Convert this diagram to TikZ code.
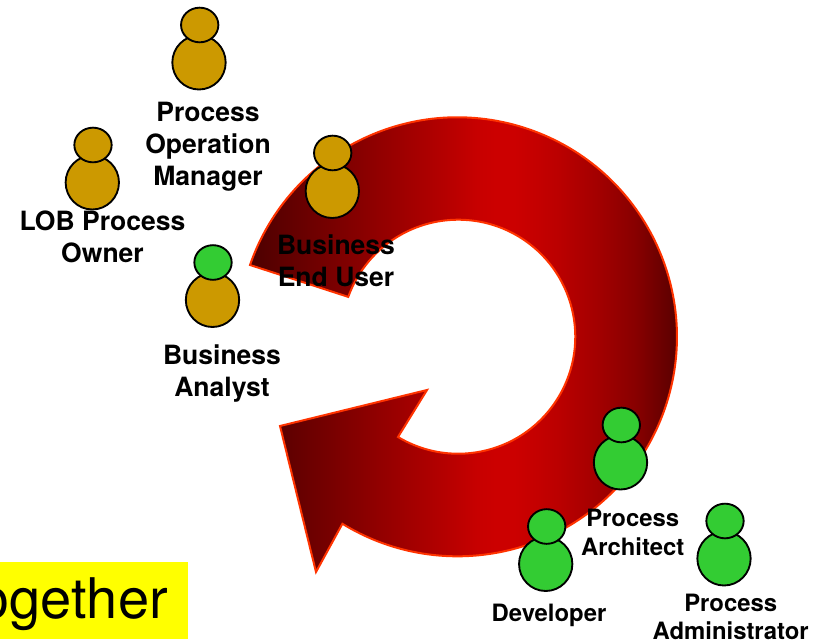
\documentclass[tikz,border=0pt]{standalone}
\usepackage{fontspec}
\setmainfont{TeX Gyre Heros}
\usetikzlibrary{shapes.geometric}
\definecolor{gold}{HTML}{CC9900}
\definecolor{leaf}{HTML}{33CC33}
\definecolor{notebg}{HTML}{FFFF00}
\definecolor{ringline}{HTML}{FF3300}
\pgfdeclarehorizontalshading{ringshade}{100bp}{rgb(0bp)=(0.30,0,0); rgb(25bp)=(0.30,0,0); rgb(47bp)=(0.72,0,0); rgb(50bp)=(0.78,0,0);
  rgb(52bp)=(0.80,0,0); rgb(54bp)=(0.80,0,0); rgb(56.5bp)=(0.77,0,0); rgb(59bp)=(0.73,0,0); rgb(63.6bp)=(0.63,0,0); rgb(67.5bp)=(0.53,0,0); rgb(71.5bp)=(0.37,0,0);
  rgb(75bp)=(0.30,0,0); rgb(100bp)=(0.30,0,0)}
\tikzset{body/.style={ellipse,draw,line width=1.4pt,minimum width=40pt,minimum height=40.5pt,inner sep=0pt}}
\tikzset{head/.style={ellipse,draw,line width=1.4pt,minimum width=28pt,minimum height=26pt,inner sep=0pt}}
\tikzset{big/.style={align=center,inner sep=0pt,font=\fontsize{19.9}{24}\selectfont\bfseries}}
\tikzset{small/.style={align=center,inner sep=0pt,font=\fontsize{17.9}{21.6}\selectfont\bfseries}}

\begin{document}
\begin{tikzpicture}[x=0.75pt,y=-0.75pt]
      \useasboundingbox (0,0) rectangle (816,641);
      % the ring with its arrow head
      \draw[line width=1.5pt,draw=ringline,shade,shading=ringshade]
        (250,265) arc (199.1:481.6:219.5) -- (316,572) -- (280,426) -- (427,390) -- (398,437)
        arc (481:199.9:117) -- cycle;
      \node[fill=notebg,anchor=east,inner sep=0pt,inner xsep=15pt,minimum height=57.75pt,text height=35pt,text depth=8.75pt,font=\fontsize{42}{42}\selectfont] (note) at (188,600.5) {ogether};
      \node[big] (pomL) at (208,147) {Process\\Operation\\Manager};
      \node[big] (lobL) at (102.5,237) {LOB Process\\Owner};
      \node[big] (beuL) at (336,261) {Business\\End User};
      \node[big] (baL) at (222,374) {Business\\Analyst};
      \node[small] (paL) at (632.7,532.3) {Process\\Architect};
      \node[small] (devL) at (549,615) {Developer};
      \node[small] (adminL) at (730.7,617) {Process\\Administrator};
      \foreach \n/\bx/\by/\hx/\hy/\bc/\hc in {pom/199/62.5/199.7/25/gold/gold,lob/92.3/182.5/93/145/gold/gold,
          beu/332.3/191/332.7/153/gold/gold,ba/212.5/300/213/262.5/gold/leaf,pa/620.5/462.5/621.3/425/leaf/leaf,
          dev/545.7/564/546.7/526.5/leaf/leaf,admin/724/558.5/725/521/leaf/leaf}{
        \node[body,fill=\bc] (\n B) at (\bx,\by) {};
        \node[head,fill=\hc] (\n H) at (\hx,\hy) {};
      }
    \end{tikzpicture}
\end{document}
